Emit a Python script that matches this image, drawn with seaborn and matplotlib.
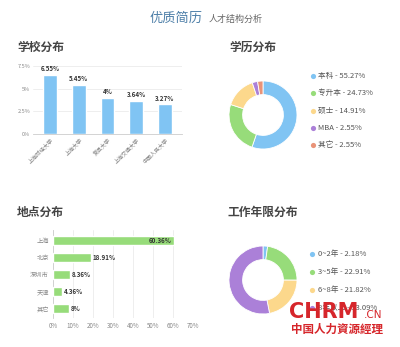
import matplotlib
matplotlib.use("Agg")
import matplotlib.pyplot as plt
import seaborn as sns
import pandas as pd

# 数据
schools = ["上海财经大学", "上海大学", "复旦大学", "上海交通大学", "中国人民大学"]
school_pct = [6.55, 5.45, 4, 3.64, 3.27]

degrees = ["本科", "专升本", "硕士", "MBA", "其它"]
degree_pct = [55.27, 24.73, 14.91, 2.55, 2.55]

cities = ["上海", "北京", "深圳市", "天津", "其它"]
city_pct = [60.36, 18.91, 8.36, 4.36, 8]

years = ["0~2年", "3~5年", "6~8年", "8年以上"]
year_pct = [2.18, 22.91, 21.82, 53.09]

blue = "#80c4f3"
green = "#97dc7a"
yellow = "#fcd88c"
purple = "#ab80d8"
orange = "#e99378"
pie_colors = [blue, green, yellow, purple, orange]

sns.set_style("white")
plt.rcParams["font.family"] = ["Noto Sans CJK SC", "DejaVu Sans"]

W, H = 400, 347
fig = plt.figure(figsize=(4, 3.47), dpi=100)


def box(x0, y0, x1, y1):
    # pixel box (top-left origin) -> figure fraction
    return [x0 / W, 1 - y1 / H, (x1 - x0) / W, (y1 - y0) / H]


tick_color = "#888888"
grid_color = "#ebebeb"

# 学校分布
ax1 = fig.add_axes(box(33, 66, 182, 134))
df_school = pd.DataFrame({"school": schools, "pct": school_pct})
sns.barplot(data=df_school, x="school", y="pct", color=blue, saturation=1,
            width=0.48, ax=ax1, zorder=3)
ax1.set_ylim(0, 7.5)
ax1.set_xlim(-0.6, 4.6)
ax1.set_yticks([0, 2.5, 5, 7.5])
ax1.set_yticklabels(["0%", "2.5%", "5%", "7.5%"])
ax1.yaxis.grid(True, color=grid_color, lw=0.6)
ax1.set_axisbelow(True)
for s in ["top", "right", "left"]:
    ax1.spines[s].set_visible(False)
ax1.spines["bottom"].set_color("#cccccc")
ax1.spines["bottom"].set_linewidth(0.6)
ax1.tick_params(axis="both", length=0, labelsize=4, colors=tick_color, pad=2)
plt.setp(ax1.get_xticklabels(), rotation=45, ha="right", rotation_mode="anchor")
ax1.set_xlabel("")
ax1.set_ylabel("")
ax1.bar_label(ax1.containers[0], labels=[f"{v:g}%" for v in school_pct],
              fontsize=4.5, fontweight="bold", color="#333333", padding=2)

# 地点分布
ax3 = fig.add_axes(box(53, 230, 193, 318))
df_city = pd.DataFrame({"city": cities, "pct": city_pct})
sns.barplot(data=df_city, x="pct", y="city", color=green, saturation=1,
            width=0.5, orient="h", ax=ax3, zorder=3)
ax3.set_xlim(0, 70)
ax3.set_ylim(4.55, -0.6)
ax3.set_xticks(range(0, 71, 10))
ax3.set_xticklabels([f"{t}%" for t in range(0, 71, 10)])
ax3.xaxis.grid(True, color=grid_color, lw=0.6)
ax3.set_axisbelow(True)
for s in ["top", "right", "bottom"]:
    ax3.spines[s].set_visible(False)
ax3.spines["left"].set_color("#cccccc")
ax3.spines["left"].set_linewidth(0.6)
ax3.tick_params(axis="both", length=0, labelsize=4.5, colors=tick_color, pad=3)
ax3.set_xlabel("")
ax3.set_ylabel("")
for i, v in enumerate(city_pct):
    if v > 40:
        ax3.text(v - 1, i, f"{v:g}%", ha="right", va="center", fontsize=4.5,
                 fontweight="bold", color="#333333", zorder=4)
    else:
        ax3.text(v + 1, i, f"{v:g}%", ha="left", va="center", fontsize=4.5,
                 fontweight="bold", color="#333333", zorder=4)

# 学历分布
ax2 = fig.add_axes(box(229, 81, 297, 149))
ax2.pie(degree_pct, colors=pie_colors, startangle=90, counterclock=False,
        radius=1, wedgeprops=dict(width=0.4, edgecolor="white", linewidth=0.6))
ax2.set_xlim(-1, 1)
ax2.set_ylim(-1, 1)

# 工作年限分布
ax4 = fig.add_axes(box(229, 246, 297, 314))
ax4.pie(year_pct, colors=pie_colors[:4], startangle=90, counterclock=False,
        radius=1, wedgeprops=dict(width=0.4, edgecolor="white", linewidth=0.6))
ax4.set_xlim(-1, 1)
ax4.set_ylim(-1, 1)

# 文本 / 图例层
top = fig.add_axes([0, 0, 1, 1])
top.set_xlim(0, W)
top.set_ylim(H, 0)
top.axis("off")
top.patch.set_alpha(0)

top.text(150, 18, "优质简历", fontsize=9.5, color="#4d7fa8", va="center", ha="left")
top.text(209, 19, "人才结构分析", fontsize=6.5, color="#666666", va="center", ha="left")

title_kw = dict(fontsize=8.5, fontweight="bold", color="#444444", va="center", ha="left")
top.text(17, 47, "学校分布", **title_kw)
top.text(229, 47, "学历分布", **title_kw)
top.text(17, 212, "地点分布", **title_kw)
top.text(228, 212, "工作年限分布", **title_kw)

for i, (lab, v) in enumerate(zip(degrees, degree_pct)):
    y = 76 + 17.3 * i
    top.scatter(313, y, s=14, color=pie_colors[i], lw=0)
    top.text(318, y, f"{lab} - {v:g}%", fontsize=5.5, color="#555555", va="center")

for i, (lab, v) in enumerate(zip(years, year_pct)):
    y = 254 + 18 * i
    top.scatter(312, y, s=14, color=pie_colors[i], lw=0)
    top.text(318, y, f"{lab} - {v:g}%", fontsize=5.5, color="#555555", va="center")

# 水印
red = "#d6262b"
top.text(289, 318, "CHRM", fontsize=15, fontweight="bold", color=red,
         family="DejaVu Sans", va="baseline", ha="left")
top.text(364, 318, ".CN", fontsize=7.5, color=red, family="DejaVu Sans",
         va="baseline", ha="left")
top.text(291, 329, "中国人力資源經理", fontsize=8.3, fontweight="bold", color=red,
         va="center", ha="left")

fig.savefig("out.png", dpi=100)
